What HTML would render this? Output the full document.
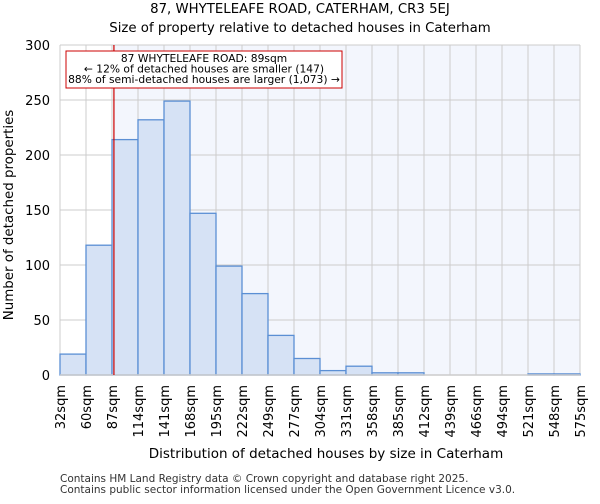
<!DOCTYPE html>
<html><head><meta charset="utf-8"><style>body{margin:0;background:#fff;font-family:"DejaVu Sans","Liberation Sans",sans-serif}</style></head>
<body>
<svg id="c" width="600" height="500" xmlns="http://www.w3.org/2000/svg" font-family="DejaVu Sans, Liberation Sans, sans-serif">
<text x="300" y="13" text-anchor="middle" font-size="13.3">87, WHYTELEAFE ROAD, CATERHAM, CR3 5EJ</text>
<text x="300" y="32" text-anchor="middle" font-size="13.3">Size of property relative to detached houses in Caterham</text>
<g id="plot"></g>
<text x="326" y="458" text-anchor="middle" font-size="13.5">Distribution of detached houses by size in Caterham</text>
<text transform="translate(13,215) rotate(-90)" text-anchor="middle" font-size="13.4">Number of detached properties</text>
<text x="60" y="482" font-size="10.5" fill="#333">Contains HM Land Registry data © Crown copyright and database right 2025.</text>
<text x="60" y="493" font-size="10.5" fill="#333">Contains public sector information licensed under the Open Government Licence v3.0.</text>
</svg>
<script>
const binLabels=["32sqm","60sqm","87sqm","114sqm","141sqm","168sqm","195sqm","222sqm","249sqm","277sqm","304sqm","331sqm","358sqm","385sqm","412sqm","439sqm","466sqm","494sqm","521sqm","548sqm","575sqm"];
const counts=[19,118,214,232,249,147,99,74,36,15,4,8,2,2,0,0,0,0,1,1];
const yTicks=[0,50,100,150,200,250,300];
const propertySize=89;
const L=60,R=580,T=45,B=375,yMax=300;
const ns="http://www.w3.org/2000/svg";
const g=document.getElementById('plot');
const n=counts.length,bw=(R-L)/n;
const xs=i=>L+i*bw;
const ys=v=>B-v/yMax*(B-T);
const edgeVal=i=>parseFloat(binLabels[i]);
function xv(v){for(let i=0;i<n;i++){const a=edgeVal(i),b=edgeVal(i+1);if(v>=a&&v<=b)return xs(i)+(v-a)/(b-a)*bw;}return R;}
function el(t,a){const e=document.createElementNS(ns,t);for(const k in a)e.setAttribute(k,a[k]);g.appendChild(e);return e;}
const px=xv(propertySize);
let e=el('rect',{x:L,y:T,width:R-L,height:B-T,fill:'#fff'});


e=el('rect',{x:px,y:T,width:R-px,height:B-T,fill:'#f3f6fd'});


for(let i=0;i<=n;i++){e=el('line',{x1:xs(i),x2:xs(i),y1:T,y2:B,stroke:'#ccc','stroke-width':1});

}
yTicks.forEach(v=>{e=el('line',{x1:L,x2:R,y1:ys(v),y2:ys(v),stroke:'#ccc','stroke-width':1});


const t=el('text',{x:L-10,y:ys(v)+5,'text-anchor':'end','font-size':13});t.textContent=v;

});
counts.forEach((c,i)=>{if(c<=0)return;const r=el('rect',{x:xs(i),y:ys(c),width:bw,height:B-ys(c),fill:'#d6e2f5',stroke:'#5b8fd4','stroke-width':1.3});

});
e=el('line',{x1:L,x2:R,y1:B,y2:B,stroke:'#ccc','stroke-width':1.5});


binLabels.forEach((s,i)=>{const t=el('text',{transform:`translate(${xs(i)+5},${B+10}) rotate(-90)`,'text-anchor':'end','font-size':13});t.textContent=s;

});
e=el('line',{x1:px,x2:px,y1:T,y2:B,stroke:'#cc0000','stroke-width':1.2});


e=el('rect',{x:66,y:51,width:276,height:37,fill:'#fff',stroke:'#cc0000','stroke-width':1});


["87 WHYTELEAFE ROAD: 89sqm","← 12% of detached houses are smaller (147)","88% of semi-detached houses are larger (1,073) →"].forEach((s,i)=>{const t=el('text',{x:204,y:62+i*10.5,'text-anchor':'middle','font-size':10.7});t.textContent=s;

});
</script>
</body></html>
